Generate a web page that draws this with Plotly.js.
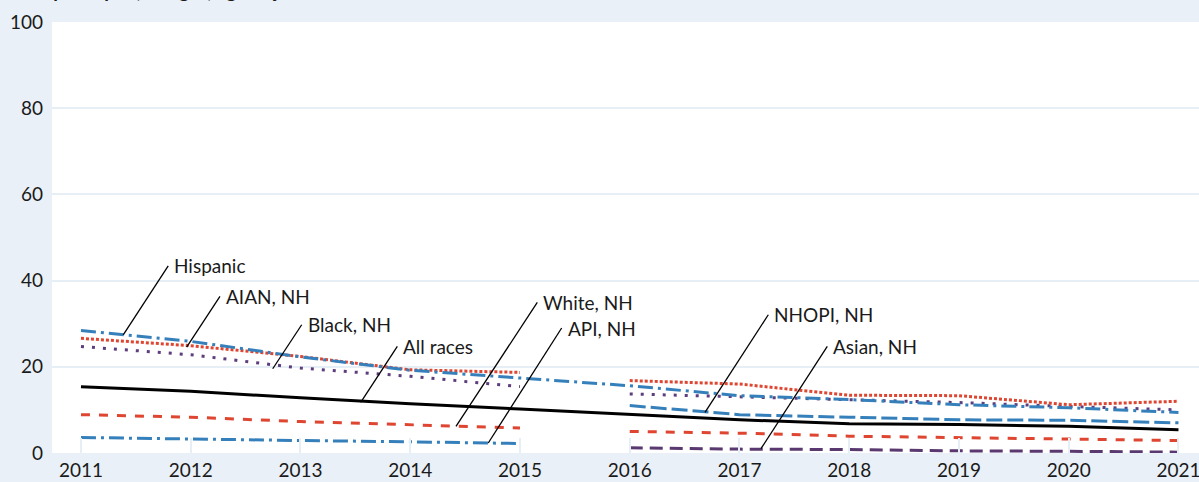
<!DOCTYPE html>
<html>
<head>
<meta charset="utf-8">
<script src="https://cdn.plot.ly/plotly-3.0.1.min.js"></script>
<style>html,body{margin:0;padding:0;background:#e9f0f7;}#chart{width:1199px;height:482px;}</style>
</head>
<body>
<div id="chart"></div>
<script>
// ---- data ----
const yearsAll = [2011, 2012, 2013, 2014, 2015, 2016, 2017, 2018, 2019, 2020, 2021];
const years1 = [2011, 2012, 2013, 2014, 2015];
const years2 = [2016, 2017, 2018, 2019, 2020, 2021];

const allRaces = [15.4, 14.3, 12.8, 11.4, 10.2, 8.9, 7.7, 6.8, 6.6, 6.2, 5.4];
const hispanic = [28.4, 25.9, 22.3, 19.2, 17.4, 15.6, 13.3, 12.4, 11.2, 10.5, 9.4];
const aian1 = [26.6, 24.9, 22.4, 19.3, 18.7];
const aian2 = [16.8, 16.0, 13.4, 13.3, 11.2, 12.0];
const black1 = [24.7, 22.8, 19.7, 17.8, 15.4];
const black2 = [13.7, 13.0, 12.4, 11.7, 10.8, 10.0];
const white1 = [8.9, 8.3, 7.3, 6.6, 5.8];
const white2 = [5.0, 4.6, 3.9, 3.6, 3.2, 2.9];
const api1 = [3.6, 3.2, 2.9, 2.6, 2.2];
const nhopi2 = [11.0, 8.9, 8.3, 7.7, 7.6, 7.0];
const asian2 = [1.2, 0.9, 0.8, 0.5, 0.4, 0.2];

const yTickVals = [0, 20, 40, 60, 80, 100];
const xTickLabels = yearsAll.map(String);

// labels: text, anchor (year, value) on the line, leader-line offset (px)
const labelText = ["Hispanic", "AIAN, NH", "Black, NH", "All races", "White, NH", "API, NH", "NHOPI, NH", "Asian, NH"];
const labelYear = [2011.385, 2011.963, 2012.747, 2013.549, 2014.417, 2014.711, 2016.686, 2017.196];
const labelVal  = [27.43, 24.58, 19.55, 11.73, 6.17, 2.32, 9.41, 1.0];
const labelDx   = [45, 33.3, 29, 36.6, 81.3, 73.4, 63.3, 66.3];
const labelDy   = [69, 50.6, 44, 56, 124, 115, 97.7, 102.3];

// ---- styles ----
const BLUE = '#3580bb', RED = '#de4631', PURPLE = '#5e3d7d', DPURPLE = '#59396f';

function tr(x, y, color, dash, name) {
  return {x: x, y: y, type: 'scatter', mode: 'lines', name: name,
          line: {color: color, width: 3, dash: dash}, hoverinfo: 'skip', showlegend: false};
}

const traces = [
  tr(years1, api1, BLUE, '15px,5px,3px,5px', 'API, NH'),
  tr(years1, white1, RED, '9px,9px', 'White, NH'),
  tr(years2, white2, RED, '9px,9px', 'White, NH'),
  tr(years2, asian2, DPURPLE, '13px,7px', 'Asian, NH'),
  tr(years2, nhopi2, BLUE, '16px,5px', 'NHOPI, NH'),
  tr(yearsAll, allRaces, '#000000', 'solid', 'All races'),
  tr(years1, black1, PURPLE, '3px,8px', 'Black, NH'),
  tr(years2, black2, PURPLE, '3px,8px', 'Black, NH'),
  tr(years1, aian1, RED, '3px,2px', 'AIAN, NH'),
  tr(years2, aian2, RED, '3px,2px', 'AIAN, NH'),
  tr(yearsAll, hispanic, BLUE, '15px,5px,3px,5px', 'Hispanic')
];

const FONT = 'Lato, "Open Sans", sans-serif';

const shapes = labelText.map((t, i) => ({
  type: 'line', xref: 'x', yref: 'y',
  xsizemode: 'pixel', ysizemode: 'pixel',
  xanchor: labelYear[i], yanchor: labelVal[i],
  x0: 0, y0: 0, x1: labelDx[i], y1: labelDy[i],
  line: {color: '#000000', width: 1.3}
}));

const annotations = labelText.map((t, i) => ({
  text: t, xref: 'x', yref: 'y', x: labelYear[i], y: labelVal[i],
  xanchor: 'left', yanchor: 'middle', showarrow: false,
  xshift: labelDx[i] + 4, yshift: labelDy[i],
  font: {family: FONT, size: 19, color: '#1a1a1a'}
}));

annotations.push({
  text: '<b>Rate per capita, all ages, age-adjusted</b>',
  xref: 'paper', yref: 'paper', x: 0, y: 1, xanchor: 'left', yanchor: 'bottom',
  xshift: -44, yshift: 17.5, showarrow: false,
  font: {family: FONT, size: 19, color: '#1a1a1a'}
});

const layout = {
  width: 1199, height: 482,
  margin: {l: 52, r: 0, t: 22, b: 29, pad: 0},
  paper_bgcolor: '#e9f0f7', plot_bgcolor: '#ffffff',
  showlegend: false,
  font: {family: FONT, size: 19, color: '#1a1a1a'},
  xaxis: {
    range: [2010.736, 2021.187], tickvals: yearsAll, ticktext: xTickLabels,
    ticks: 'inside', ticklen: 15, tickwidth: 2, tickcolor: '#e6eef6',
    showgrid: false, zeroline: false, showline: false,
    ticklabelstandoff: 4, ticklabeloverflow: 'allow',
    tickfont: {family: FONT, size: 19, color: '#1a1a1a'}
  },
  yaxis: {
    range: [0, 100], tickvals: yTickVals,
    showgrid: true, gridcolor: '#e6eef6', gridwidth: 2,
    zeroline: false, showline: false, ticks: '',
    ticklabelstandoff: 8,
    tickfont: {family: FONT, size: 19, color: '#1a1a1a'}
  },
  shapes: shapes,
  annotations: annotations
};

Plotly.newPlot('chart', traces, layout, {staticPlot: true, displayModeBar: false});
</script>
</body>
</html>
